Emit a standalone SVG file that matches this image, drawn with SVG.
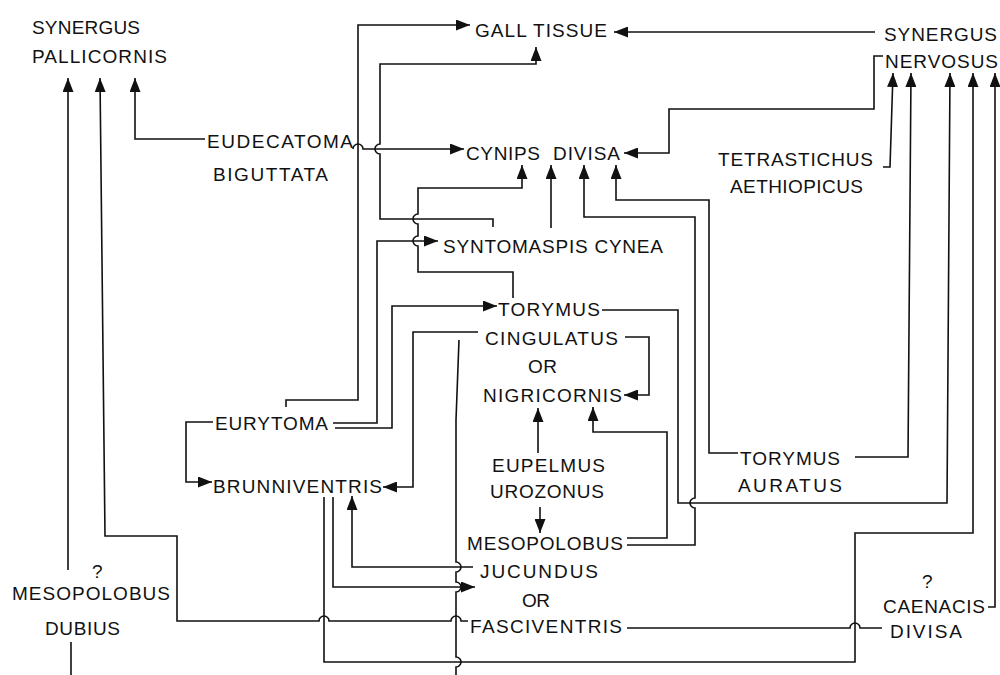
<svg xmlns="http://www.w3.org/2000/svg" width="1000" height="675" viewBox="0 0 1000 675">
<defs>
<marker id="ah" viewBox="0 0 14 11" refX="14" refY="5.5" markerWidth="14" markerHeight="11" orient="auto" markerUnits="userSpaceOnUse"><path d="M0,0 L14,5.5 L0,11 z" fill="#111"/></marker>
<style>
text{font-family:"Liberation Sans",Arial,sans-serif;font-size:19px;fill:#111;lengthAdjust:spacing}
.c path{fill:none;stroke:#111;stroke-width:1.6}
.a{marker-end:url(#ah)}
</style>
</defs>
<rect width="1000" height="675" fill="#fff"/>
<g class="c" id="connectors">
<path class="a" d="M205,139 H135 V78"/>
<path class="a" d="M468,621 H461 A5,5 0 0 0 451,621 H329 A5,5 0 0 0 319,621 H177 V536 H105 L100,78"/>
<path class="a" d="M68,570 V78"/>
<path d="M71,642 V675"/>
<path class="a" d="M286,407 V400 H358 V25 H470"/>
<path class="a" d="M493,227 V219 H380 V154 A5,5 0 0 1 380,144 V64 H536 V47"/>
<path class="a" d="M353,149 A5,5 0 0 1 363,149 H464"/>
<path class="a" d="M875,32 H614"/>
<path class="a" d="M883,56 H874 V109 H669 V153 H624"/>
<path class="a" d="M883,167 H890 L893,73"/>
<path class="a" d="M513,298 V272 H418 V246 A5,5 0 0 1 418,236 V224 A5,5 0 0 1 418,214 V188 H522 V165"/>
<path class="a" d="M551,228 V165"/>
<path class="a" d="M627,545 H695 V508 A5,5 0 0 1 695,498 V217 H584 V165"/>
<path class="a" d="M738,453 H709 V200 H616 V165"/>
<path class="a" d="M333,423 H377 V241 H438"/>
<path class="a" d="M335,428 H392 V306 H497"/>
<path class="a" d="M478,332 H413 V487 H383"/>
<path class="a" d="M625,337 H649 V395 H624"/>
<path class="a" d="M538,453 V408"/>
<path class="a" d="M627,538 H667 V432 H593 V407"/>
<path class="a" d="M602,310 H678 V503 H947 L950,73"/>
<path class="a" d="M855,457 H908 L911,73"/>
<path class="a" d="M324,497 V662 H855 V533 H973 V73"/>
<path class="a" d="M988,607 H995 V73"/>
<path d="M627,628 H850 A5,5 0 0 1 860,628 H882"/>
<path class="a" d="M473,567 H352 V496"/>
<path class="a" d="M333,497 V587 H475"/>
<path class="a" d="M213,422 H186 V482 H212"/>
<path class="a" d="M540,507 V533"/>
<path d="M459,340 L456,420 V562 A5,5 0 0 1 456,572 V582 A5,5 0 0 1 456,592 V657 A5,5 0 0 1 456,667 V675"/>
</g>
<g id="synergus-pallicornis"><text x="32" y="34" textLength="108">SYNERGUS</text><text x="32" y="63" textLength="135">PALLICORNIS</text></g>
<g id="gall-tissue"><text x="475" y="37" textLength="132">GALL TISSUE</text></g>
<g id="synergus-nervosus"><text x="884" y="41" textLength="113">SYNERGUS</text><text x="885" y="68" textLength="113">NERVOSUS</text></g>
<g id="eudecatoma"><text x="207" y="148" textLength="146">EUDECATOMA</text><text x="213" y="181" textLength="115">BIGUTTATA</text></g>
<g id="cynips-divisa"><text x="466" y="160" textLength="74">CYNIPS</text><text x="553" y="160" textLength="67">DIVISA</text></g>
<g id="tetrastichus"><text x="718" y="166" textLength="155">TETRASTICHUS</text><text x="730" y="193" textLength="133">AETHIOPICUS</text></g>
<g id="syntomaspis"><text x="443" y="253" textLength="220">SYNTOMASPIS CYNEA</text></g>
<g id="torymus-cingulatus"><text x="498" y="316" textLength="102">TORYMUS</text><text x="485" y="345" textLength="133">CINGULATUS</text><text x="528" y="373" textLength="29">OR</text><text x="483" y="402" textLength="139">NIGRICORNIS</text></g>
<g id="eupelmus"><text x="492" y="472" textLength="113">EUPELMUS</text><text x="490" y="498" textLength="114">UROZONUS</text></g>
<g id="mesopolobus-jucundus"><text x="467" y="550" textLength="156">MESOPOLOBUS</text><text x="480" y="578" textLength="118">JUCUNDUS</text><text x="522" y="607" textLength="28">OR</text><text x="470" y="633" textLength="152">FASCIVENTRIS</text></g>
<g id="eurytoma"><text x="215" y="430" textLength="113">EURYTOMA</text><text x="213" y="493" textLength="169">BRUNNIVENTRIS</text></g>
<g id="torymus-auratus"><text x="740" y="465" textLength="100">TORYMUS</text><text x="738" y="492" textLength="104">AURATUS</text></g>
<g id="mesopolobus-dubius"><text x="92" y="578">?</text><text x="12" y="600" textLength="158">MESOPOLOBUS</text><text x="45" y="635" textLength="75">DUBIUS</text></g>
<g id="caenacis-divisa"><text x="922" y="588">?</text><text x="883" y="613" textLength="102">CAENACIS</text><text x="890" y="638" textLength="72">DIVISA</text></g>
</svg>
